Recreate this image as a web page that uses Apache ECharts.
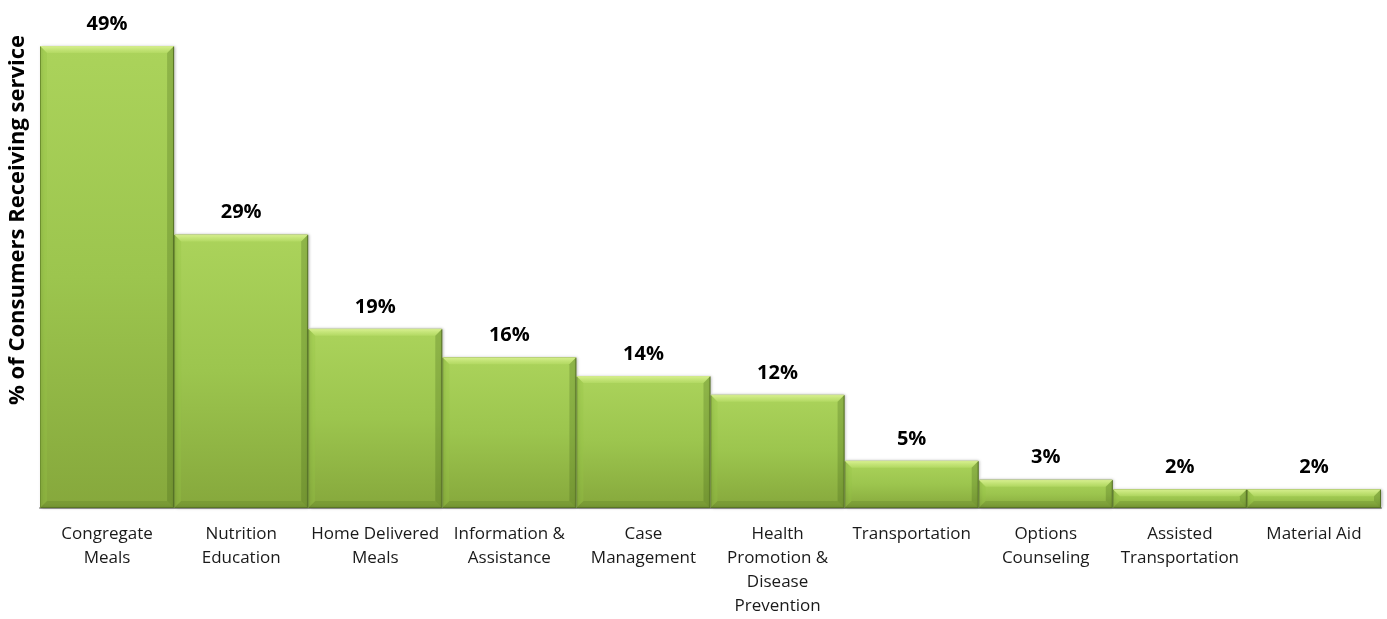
<!DOCTYPE html>
<html>
<head>
<meta charset="utf-8">
<script src="https://cdn.jsdelivr.net/npm/echarts@6/dist/echarts.min.js"></script>
<style>
  html, body { margin: 0; padding: 0; background: #fff; }
  #chart { width: 1387px; height: 619px; }
</style>
</head>
<body>
<div id="chart"></div>
<script>
// Service categories and share of consumers receiving each service (%)
const categories = [
  'Congregate\nMeals',
  'Nutrition\nEducation',
  'Home Delivered\nMeals',
  'Information &\nAssistance',
  'Case\nManagement',
  'Health\nPromotion &\nDisease\nPrevention',
  'Transportation',
  'Options\nCounseling',
  'Assisted\nTransportation',
  'Material Aid'
];
const percentValues = [49, 29, 19, 16, 14, 12, 5, 3, 2, 2];
const yAxisTitle = '% of Consumers Receiving service';

const chart = echarts.init(document.getElementById('chart'));

const barFill = new echarts.graphic.LinearGradient(0, 0, 0, 1, [
  { offset: 0, color: '#abd35b' },
  { offset: 0.5, color: '#9cc54e' },
  { offset: 1, color: '#86a83c' }
]);

// Bevelled edges drawn over each bar, from the same values and axes
function renderBevel(params, api) {
  const idx = api.value(0);
  const val = api.value(1);
  const top = api.coord([idx, val]);
  const base = api.coord([idx, 0]);
  const w = api.size([1, 0])[0];
  const x0 = top[0] - w / 2, x1 = top[0] + w / 2;
  const y0 = top[1], y1 = base[1];
  const b = Math.min(7, (y1 - y0) / 2);
  const poly = (pts, fill) => ({ type: 'polygon', shape: { points: pts }, style: { fill: fill }, silent: true });
  return {
    type: 'group',
    children: [
      poly([[x0, y0], [x1, y0], [x1 - b, y0 + b], [x0 + b, y0 + b]],
        new echarts.graphic.LinearGradient(0, 0, 0, 1, [
          { offset: 0, color: 'rgba(222,245,150,0.95)' },
          { offset: 1, color: 'rgba(185,222,105,0.6)' }
        ])),
      poly([[x0, y0], [x0 + b, y0 + b], [x0 + b, y1 - b], [x0, y1]], 'rgba(150,195,70,0.3)'),
      poly([[x1, y0], [x1, y1], [x1 - b, y1 - b], [x1 - b, y0 + b]], 'rgba(60,90,20,0.25)'),
      poly([[x0, y1], [x0 + b, y1 - b], [x1 - b, y1 - b], [x1, y1]], 'rgba(70,100,25,0.2)')
    ]
  };
}

chart.setOption({
  animation: false,
  grid: { left: 40, right: 6, top: 46, bottom: 111, outerBoundsMode: 'none', containLabel: false },
  graphic: [{
    type: 'text',
    left: 7,
    top: 35,
    rotation: Math.PI / 2,
    style: {
      text: yAxisTitle,
      fontFamily: 'Open Sans',
      fontWeight: 'bold',
      fontSize: 22,
      fill: '#000'
    }
  }],
  xAxis: {
    type: 'category',
    data: categories,
    axisLine: { show: true, lineStyle: { color: '#a0a0a0', width: 2 } },
    axisTick: { show: false },
    axisLabel: {
      interval: 0,
      margin: 14,
      color: '#1a1a1a',
      fontFamily: 'Open Sans',
      fontSize: 17,
      lineHeight: 24
    }
  },
  yAxis: {
    type: 'value',
    min: 0,
    max: 49,
    axisLine: { show: false },
    axisTick: { show: false },
    axisLabel: { show: false },
    splitLine: { show: false }
  },
  series: [{
    type: 'bar',
    data: percentValues,
    barCategoryGap: 0,
    itemStyle: {
      color: barFill,
      borderColor: '#5e7a28',
      borderWidth: 1,
      shadowColor: 'rgba(0,0,0,0.25)',
      shadowBlur: 3,
      shadowOffsetX: 1
    },
    label: {
      show: true,
      position: 'top',
      distance: 12,
      formatter: '{c}%',
      fontFamily: 'Open Sans',
      fontWeight: 'bold',
      fontSize: 20,
      color: '#000'
    }
  }, {
    type: 'custom',
    data: percentValues.map((v, i) => [i, v]),
    renderItem: renderBevel,
    silent: true,
    z: 3
  }]
});
</script>
</body>
</html>
